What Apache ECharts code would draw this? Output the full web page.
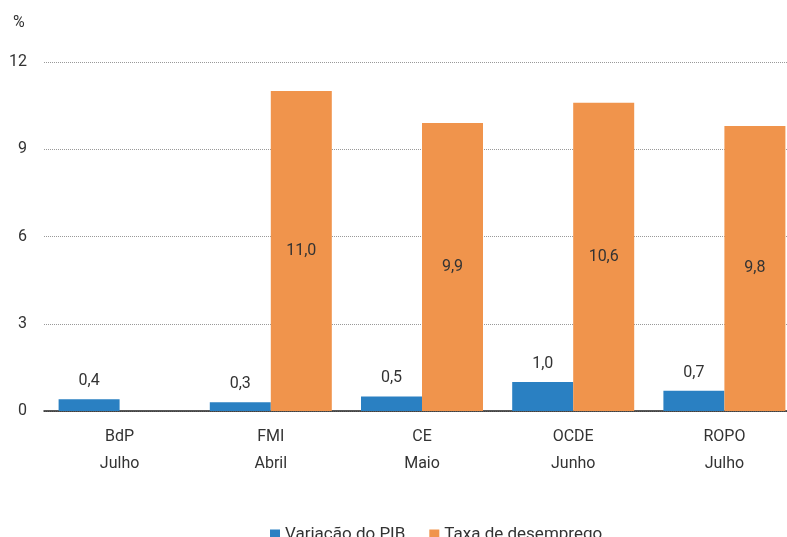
<!DOCTYPE html>
<html><head><meta charset="utf-8">
<script src="https://cdn.jsdelivr.net/npm/echarts@6/dist/echarts.min.js"></script>
<style>html,body{margin:0;padding:0;background:#fff;overflow:hidden}#w{width:787px;height:537px;overflow:hidden}#c{width:800px;height:537px}</style>
</head><body><div id="w"><div id="c"></div></div>
<script>
const categories = ['BdP\nJulho', 'FMI\nAbril', 'CE\nMaio', 'OCDE\nJunho', 'ROPO\nJulho'];
const pibValues = [0.4, 0.3, 0.5, 1.0, 0.7];
const desempregoValues = [null, 11.0, 9.9, 10.6, 9.8];
const seriesNames = ['Variação do PIB', 'Taxa de desemprego'];
const yTicks = { min: 0, max: 12, interval: 3 };

const FONT = 'Roboto';
const fmt = p => p.value == null ? '' : p.value.toFixed(1).replace('.', ',');
const chart = echarts.init(document.getElementById('c'));
chart.setOption({
  animation: false,
  textStyle: { fontFamily: FONT },
  graphic: [{ type: 'text', left: 13, top: 15, style: { text: '%', font: '16px ' + FONT, fill: '#333' } }],
  legend: {
    data: seriesNames, left: 265, top: 521, itemWidth: 10, itemHeight: 10, itemGap: 24,
    icon: 'rect', textStyle: { fontSize: 17, color: '#333', fontFamily: FONT }
  },
  grid: { left: 44, top: 62, width: 756, height: 349, containLabel: false },
  xAxis: {
    type: 'category', data: categories,
    axisLine: { lineStyle: { color: '#222', width: 1.5 } },
    axisTick: { show: false },
    axisLabel: { fontSize: 16, color: '#333', lineHeight: 27, margin: 12, fontFamily: FONT }
  },
  yAxis: {
    type: 'value', min: yTicks.min, max: yTicks.max, interval: yTicks.interval,
    axisLine: { show: false }, axisTick: { show: false },
    axisLabel: { fontSize: 16, color: '#333', margin: 17, fontFamily: FONT },
    splitLine: { lineStyle: { color: '#999', type: [1, 1], width: 1 } }
  },
  series: [
    { name: seriesNames[0], type: 'bar', data: pibValues, barWidth: 61, barGap: '0%',
      itemStyle: { color: '#2a80c2' },
      label: { show: true, position: 'top', distance: 10, formatter: fmt, fontSize: 16, color: '#333', fontFamily: FONT } },
    { name: seriesNames[1], type: 'bar', data: desempregoValues, barWidth: 61,
      itemStyle: { color: '#f0944c' },
      label: { show: true, position: 'inside', formatter: fmt, fontSize: 16, color: '#333', fontFamily: FONT } }
  ]
});
</script></body></html>
